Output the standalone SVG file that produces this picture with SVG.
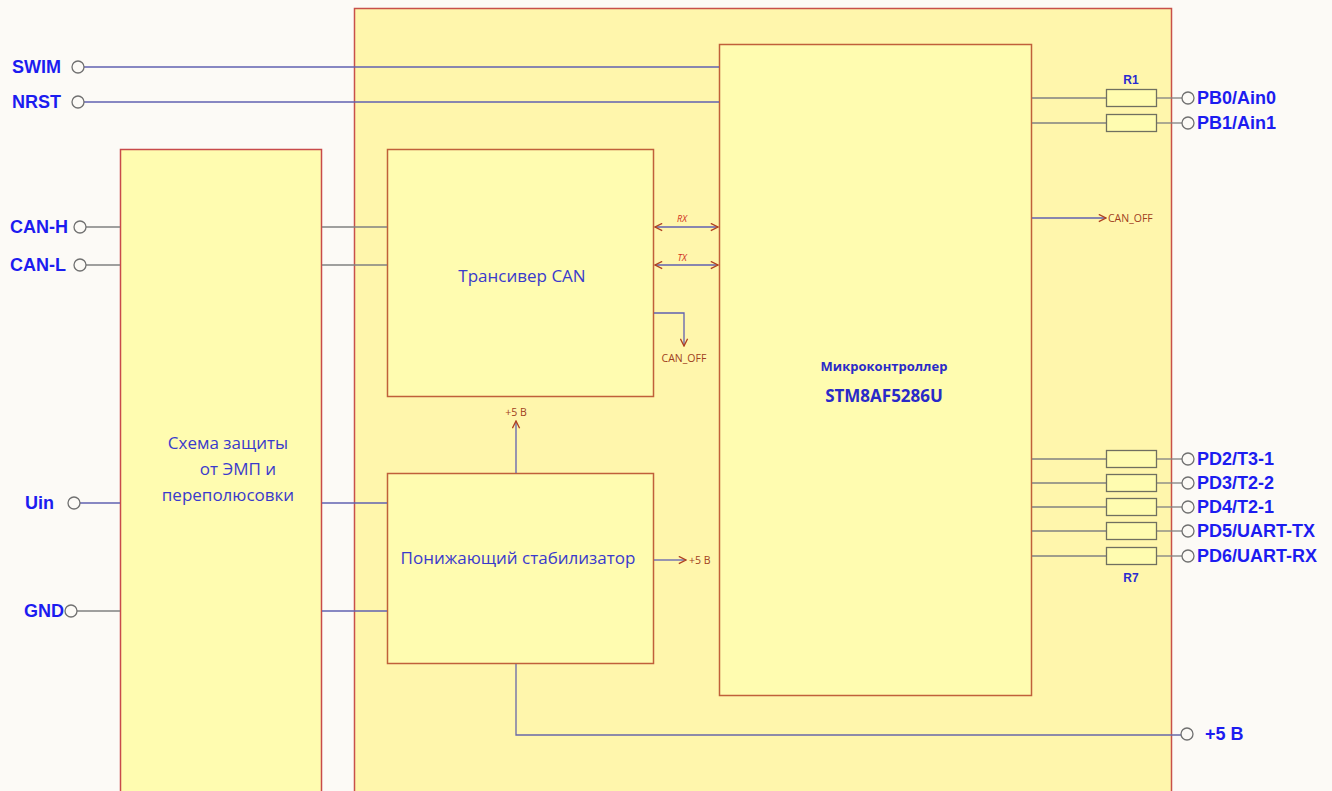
<svg xmlns="http://www.w3.org/2000/svg" width="1332" height="791" viewBox="0 0 1332 791">
<defs>
<style>
.bg{fill:#fcfaf6}
.outer{fill:#fff6ac;stroke:#c8504a;stroke-width:1.5}
.blk{fill:#fffcb0;stroke:#c0603a;stroke-width:1.5}
.prot{fill:#fffcb0;stroke:#c84a4a;stroke-width:1.5}
.btxt{font-family:"Open Sans","Noto Sans",sans-serif;font-size:17px;fill:#3a3acc;text-anchor:middle}
.mtxt{font-family:"Open Sans","Noto Sans",sans-serif;font-weight:bold;fill:#2a2ac8;text-anchor:middle}
.pin{font-family:"Liberation Sans","Open Sans",sans-serif;font-weight:bold;font-size:18px;fill:#1c1cf0}
.small{font-family:"Open Sans","Noto Sans",sans-serif;font-size:10.5px;fill:#a04020}
.ital{font-family:"Open Sans","Noto Sans",sans-serif;font-size:9px;font-style:italic;fill:#d03020;text-anchor:middle}
.rlbl{font-family:"Liberation Sans",sans-serif;font-weight:bold;font-size:12px;fill:#2a2ad0;text-anchor:middle}
.term{fill:#fcfaf6;stroke:#707070;stroke-width:1.3}
.wb{stroke:#6060b0;stroke-width:1.3;fill:none}
.wg{stroke:#808080;stroke-width:1.3;fill:none}
.res{fill:#fffcb0;stroke:#707060;stroke-width:1.3}
</style>
<marker id="arr" viewBox="0 0 10 10" refX="9" refY="5" markerWidth="9" markerHeight="9" orient="auto-start-reverse" markerUnits="userSpaceOnUse">
<path d="M1,1 L9,5 L1,9" fill="none" stroke="#b04020" stroke-width="1.5"/>
</marker>
</defs>
<rect class="bg" x="0" y="0" width="1332" height="791"/>

<g id="board">
<rect class="outer" x="354.5" y="8.5" width="817" height="800"/>
</g>

<g id="protection">
<rect class="prot" x="120.5" y="149.5" width="201" height="660"/>
<text class="btxt" x="228" y="449">Схема защиты</text>
<text class="btxt" x="238" y="475">от ЭМП и</text>
<text class="btxt" x="228" y="501">переполюсовки</text>
</g>

<g id="transceiver">
<rect class="blk" x="387.5" y="149.5" width="266" height="247"/>
<text class="btxt" x="522" y="282">Трансивер CAN</text>
</g>

<g id="stabilizer">
<rect class="blk" x="387.5" y="473.5" width="266" height="190"/>
<text class="btxt" x="518" y="564">Понижающий стабилизатор</text>
</g>

<g id="mcu">
<rect class="blk" x="719.5" y="44.5" width="312" height="651"/>
<text class="mtxt" x="884" y="371" font-size="13">Микроконтроллер</text>
<text class="mtxt" x="884" y="402" font-size="17">STM8AF5286U</text>
</g>

<g id="connectors">
<line class="wb" x1="84" y1="67" x2="719" y2="67"/>
<line class="wb" x1="84" y1="102" x2="719" y2="102"/>
<line class="wg" x1="86" y1="227" x2="120" y2="227"/>
<line class="wg" x1="322" y1="227" x2="387" y2="227"/>
<line class="wg" x1="86" y1="265" x2="120" y2="265"/>
<line class="wg" x1="322" y1="265" x2="387" y2="265"/>
<line class="wb" x1="80" y1="503" x2="120" y2="503"/>
<line class="wb" x1="322" y1="503" x2="387" y2="503"/>
<line class="wg" x1="77" y1="611" x2="120" y2="611"/>
<line class="wb" x1="322" y1="611" x2="387" y2="611"/>
<line class="wb" x1="655" y1="227" x2="718" y2="227" marker-start="url(#arr)" marker-end="url(#arr)"/>
<line class="wb" x1="655" y1="265" x2="718" y2="265" marker-start="url(#arr)" marker-end="url(#arr)"/>
<polyline class="wb" points="654,313 684,313 684,346" marker-end="url(#arr)"/>
<line class="wb" x1="516" y1="473" x2="516" y2="421" marker-end="url(#arr)"/>
<line class="wb" x1="654" y1="560" x2="686" y2="560" marker-end="url(#arr)"/>
<polyline class="wg" points="516,664 516,735 1181,735" style="stroke:#6868a8"/>
<line class="wb" x1="1032" y1="218" x2="1106" y2="218" marker-end="url(#arr)"/>
<g class="wg">
<line x1="1032" y1="98" x2="1106" y2="98"/><line x1="1157" y1="98" x2="1182" y2="98"/>
<line x1="1032" y1="123" x2="1106" y2="123"/><line x1="1157" y1="123" x2="1182" y2="123"/>
<line x1="1032" y1="459" x2="1106" y2="459"/><line x1="1157" y1="459" x2="1182" y2="459"/>
<line x1="1032" y1="483" x2="1106" y2="483"/><line x1="1157" y1="483" x2="1182" y2="483"/>
<line x1="1032" y1="507" x2="1106" y2="507"/><line x1="1157" y1="507" x2="1182" y2="507"/>
<line x1="1032" y1="531" x2="1106" y2="531"/><line x1="1157" y1="531" x2="1182" y2="531"/>
<line x1="1032" y1="556" x2="1106" y2="556"/><line x1="1157" y1="556" x2="1182" y2="556"/>
</g>
</g>

<g id="labels-inner">
<text class="ital" x="682" y="222">RX</text>
<text class="ital" x="682" y="261">TX</text>
<text class="small" x="684" y="362" text-anchor="middle">CAN_OFF</text>
<text class="small" x="516" y="416" text-anchor="middle">+5 В</text>
<text class="small" x="689" y="564">+5 В</text>
<text class="small" x="1108" y="222">CAN_OFF</text>
</g>

<g id="resistors">
<rect class="res" x="1106.5" y="89.5" width="50" height="17"/>
<rect class="res" x="1106.5" y="114.5" width="50" height="17"/>
<rect class="res" x="1106.5" y="450.5" width="50" height="17"/>
<rect class="res" x="1106.5" y="474.5" width="50" height="17"/>
<rect class="res" x="1106.5" y="498.5" width="50" height="17"/>
<rect class="res" x="1106.5" y="522.5" width="50" height="17"/>
<rect class="res" x="1106.5" y="547.5" width="50" height="17"/>
<text class="rlbl" x="1131" y="84">R1</text>
<text class="rlbl" x="1131" y="582">R7</text>
</g>

<g id="left-terminals">
<circle class="term" cx="78" cy="67" r="6"/><text class="pin" x="12" y="73">SWIM</text>
<circle class="term" cx="78" cy="102" r="6"/><text class="pin" x="12" y="108">NRST</text>
<circle class="term" cx="80" cy="227" r="6"/><text class="pin" x="10" y="233">CAN-H</text>
<circle class="term" cx="80" cy="265" r="6"/><text class="pin" x="10" y="271">CAN-L</text>
<circle class="term" cx="74" cy="503" r="6"/><text class="pin" x="25" y="509">Uin</text>
<circle class="term" cx="71" cy="611" r="6"/><text class="pin" x="24" y="617">GND</text>
</g>

<g id="right-terminals">
<circle class="term" cx="1188" cy="98" r="6"/><text class="pin" x="1197" y="104">PB0/Ain0</text>
<circle class="term" cx="1188" cy="123" r="6"/><text class="pin" x="1197" y="129">PB1/Ain1</text>
<circle class="term" cx="1188" cy="459" r="6"/><text class="pin" x="1197" y="465">PD2/T3-1</text>
<circle class="term" cx="1188" cy="483" r="6"/><text class="pin" x="1197" y="489">PD3/T2-2</text>
<circle class="term" cx="1188" cy="507" r="6"/><text class="pin" x="1197" y="513">PD4/T2-1</text>
<circle class="term" cx="1188" cy="531" r="6"/><text class="pin" x="1197" y="537">PD5/UART-TX</text>
<circle class="term" cx="1188" cy="556" r="6"/><text class="pin" x="1197" y="562">PD6/UART-RX</text>
<circle class="term" cx="1187" cy="734" r="6"/><text class="pin" x="1205" y="740">+5 В</text>
</g>
</svg>
